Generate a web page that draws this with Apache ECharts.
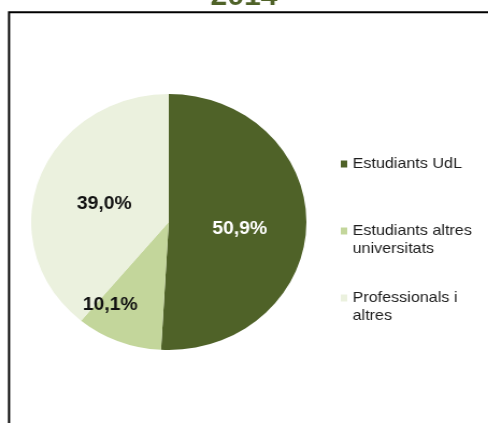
<!DOCTYPE html>
<html>
<head>
<meta charset="utf-8">
<script src="https://cdn.jsdelivr.net/npm/echarts@6/dist/echarts.min.js"></script>
<style>
html,body{margin:0;padding:0;background:#fff;overflow:hidden;}
#wrap{width:488px;height:423px;overflow:hidden;position:relative;}
#chart{width:454px;height:423px;transform:scaleX(1.075);transform-origin:0 0;}
</style>
</head>
<body>
<div id="wrap"><div id="chart"></div></div>
<script>
const titleText = '2014';
const categories = ['Estudiants UdL', 'Estudiants altres universitats', 'Professionals i altres'];
const legendLabels = ['Estudiants UdL', 'Estudiants altres\nuniversitats', 'Professionals i\naltres'];
const values = [50.9, 10.1, 39.0];
const colors = ['#4F6228', '#C3D69B', '#EBF1DE'];
const labelColors = ['#ffffff', '#111111', '#111111'];

const FONT = '"Liberation Sans", Arial, sans-serif';
const chart = echarts.init(document.getElementById('chart'), null, {renderer: 'canvas'});

const legendTops = [155, 204, 271];
const legends = categories.map(function (name, i) {
  const multi = legendLabels[i].indexOf('\n') >= 0;
  return {
    orient: 'vertical',
    left: 317,
    top: legendTops[i],
    padding: 0,
    itemWidth: 6,
    itemHeight: 7,
    itemGap: 0,
    icon: 'rect',
    selectedMode: false,
    data: [name],
    formatter: function () { return multi ? '\n' + legendLabels[i] : legendLabels[i]; },
    textStyle: {
      fontFamily: FONT,
      fontSize: 15,
      color: '#1e1e1e',
      lineHeight: 18
    }
  };
});

const labelShift = [[-1, 5], [-30, 21], [3, 5]];

chart.setOption({
  animation: false,
  backgroundColor: '#fff',
  title: {
    text: titleText,
    left: 'center',
    top: -22,
    textStyle: {fontFamily: FONT, fontSize: 28, fontWeight: 'bold', color: '#4F6228'}
  },
  graphic: [{
    type: 'rect',
    shape: {x: 8.4, y: 12.3, width: 1000, height: 1000},
    style: {fill: 'none', stroke: '#000', lineWidth: 2},
    silent: true
  }],
  legend: legends,
  series: [{
    type: 'pie',
    center: [157, 222],
    radius: 128,
    startAngle: 90,
    clockwise: true,
    avoidLabelOverlap: false,
    silent: true,
    itemStyle: {borderWidth: 0},
    label: {
      show: true,
      position: 'inside',
      fontFamily: FONT,
      fontSize: 18,
      fontWeight: 'bold',
      formatter: function (p) { return p.value.toFixed(1).replace('.', ',') + '%'; }
    },
    labelLine: {show: false},
    labelLayout: function (p) {
      const s = labelShift[p.dataIndex];
      return {dx: s[0], dy: s[1]};
    },
    data: categories.map(function (name, i) {
      return {
        name: name,
        value: values[i],
        itemStyle: {color: colors[i]},
        label: {color: labelColors[i]}
      };
    })
  }]
});
</script>
</body>
</html>
